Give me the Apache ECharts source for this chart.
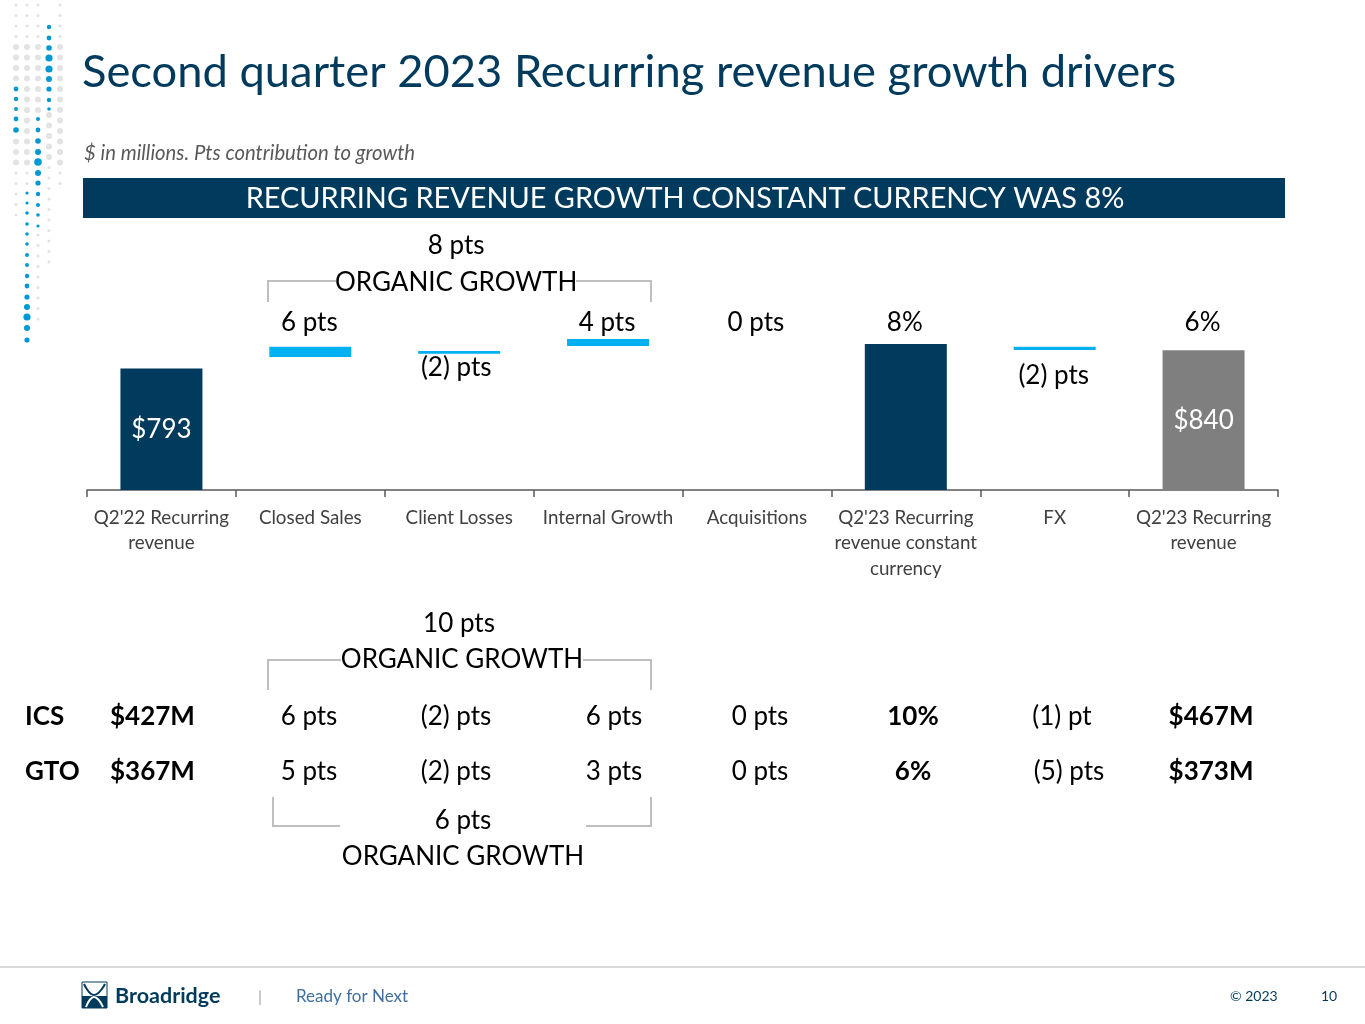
<!DOCTYPE html>
<html><head><meta charset="utf-8">
<script src="https://cdn.jsdelivr.net/npm/echarts@6/dist/echarts.min.js"></script>
<style>html,body{margin:0;padding:0;background:#fff;} #c{width:1365px;height:1024px;}</style>
</head><body><div id="c"></div>
<script>
// ---- data ----
const categories = ["Q2'22 Recurring\nrevenue", "Closed Sales", "Client Losses", "Internal Growth", "Acquisitions", "Q2'23 Recurring\nrevenue constant\ncurrency", "FX", "Q2'23 Recurring\nrevenue"];
const totalValues = [793, '-', '-', '-', '-', 856, '-', 840];
const totalLabels = ['$793', '', '', '', '', '', '', '$840'];
const markerLow  = ['-', 823, 831, 851, '-', '-', 841, '-'];
const markerHigh = ['-', 849, 838, 869, '-', '-', 849, '-'];
const topLabels   = ['', '6 pts', '', '4 pts', '0 pts', '8%', '', '6%'];
const belowLabels = ['', '', '(2) pts', '', '', '', '(2) pts', ''];
const organicTotal = '8 pts';
const icsRow = ['ICS', '$427M', '6 pts', '(2) pts', '6 pts', '0 pts', '10%', '(1) pt', '$467M'];
const gtoRow = ['GTO', '$367M', '5 pts', '(2) pts', '3 pts', '0 pts', '6%', '(5) pts', '$373M'];
const icsOrganic = '10 pts';
const gtoOrganic = '6 pts';

// ---- styles ----
const FONT = 'Lato';
const NAVY = '#003a5d';
const BLUE = '#00b0f0';
const GREY_BAR = '#7f7f7f';
const totalColors = [NAVY, null, null, null, null, NAVY, null, GREY_BAR];

const chart = echarts.init(document.getElementById('c'), null, {renderer: 'canvas'});

const markerBase = markerLow;
const markerSize = markerLow.map((v, i) => v === '-' ? '-' : markerHigh[i] - v);

chart.setOption({
  backgroundColor: '#ffffff',
  animation: false,
  textStyle: {fontFamily: FONT},
  grid: {left: 87, right: 87, top: 230, bottom: 534, containLabel: false},
  xAxis: {
    type: 'category',
    data: categories,
    axisLine: {lineStyle: {color: '#595959', width: 1.5}},
    axisTick: {show: true, length: 7, lineStyle: {color: '#595959', width: 1.5}},
    axisLabel: {color: '#404040', fontSize: 18.8, lineHeight: 25.5, margin: 15, fontFamily: FONT, interval: 0}
  },
  yAxis: {type: 'value', min: 480, max: 1150, show: false, splitLine: {show: false}},
  series: [
    {
      type: 'bar', name: 'total', barWidth: 82, barGap: '-100%',
      data: totalValues.map((v, i) => ({value: v, itemStyle: {color: totalColors[i] || NAVY}})),
      label: {
        show: true, position: 'inside', color: '#ffffff', fontSize: 26, fontFamily: FONT,
        formatter: p => totalLabels[p.dataIndex]
      }
    },
    {
      type: 'bar', name: 'base', stack: 'float', barWidth: 82, barGap: '-100%',
      itemStyle: {color: 'rgba(0,0,0,0)'}, data: markerBase, silent: true
    },
    {
      type: 'bar', name: 'change', stack: 'float', barWidth: 82, barGap: '-100%',
      itemStyle: {color: BLUE}, data: markerSize
    }
  ]
});

// ---- annotations positioned from the axis ----
const cx = categories.map((c, i) => chart.convertToPixel({xAxisIndex: 0}, i));
const g = [];
function txt(x, y, s, opt) {
  opt = opt || {};
  g.push({type: 'text', x: x, y: y, silent: true, z: 10, style: {
    text: s, fill: opt.color || '#000000', fontSize: opt.size || 26,
    fontFamily: opt.font || FONT, fontWeight: opt.weight || 'normal', fontStyle: opt.style || 'normal',
    textAlign: opt.align || 'center', textVerticalAlign: 'middle'
  }});
}
function pl(points, color, w) {
  g.push({type: 'polyline', silent: true, shape: {points: points}, style: {stroke: color || '#bfbfbf', lineWidth: w || 2, fill: null}});
}

// decoration dots (top-left)
const blueDots = [
  [49,27,2.2],[49,38,2.4],[49,48,2.8],[49,58,3.6],[49,69,3.6],[49,79,3],[49,89,2.6],[49,100,2.2],[49,109,1.8],
  [16,89,2.4],[16,99,2.2],[16,109,2],[16,119,2.4],[16,130,2.8],
  [38,119,2],[38,130,2.4],[38,141,2.8],[38,152,3],[38,162,3.8],[38,173,3],[38,183,2.6],[38,194,2.2],[38,205,2],[38,215,1.8],[38,226,1.6],
  [27,193,1.6],[27,203,1.6],[27,213,1.8],[27,224,1.8],[27,234,1.8],[27,244,1.8],[27,255,2],[27,265,2],[27,276,2.2],[27,286,2.4],[27,297,2.6],[27,307,3],[27,317,3.6],[27,328,3],[27,340,2.6]
];
const greyCols = [[16,5,225],[27,5,185],[38,5,110],[38,235,320],[49,115,265],[60,5,185]];
greyCols.forEach(([x, y0, y1]) => {
  for (let y = y0; y <= y1; y += 10.5) {
    const near = blueDots.some(d => d[0] === x && Math.abs(d[1] - y) < 5);
    if (!near) {
      const r = (y > 45 && y < 165) ? 3 : 1.6;
      g.push({type: 'circle', silent: true, shape: {cx: x, cy: y, r: r}, style: {fill: '#e3e3e3'}});
    }
  }
});
blueDots.forEach(([x, y, r]) => g.push({type: 'circle', silent: true, z: 5, shape: {cx: x, cy: y, r: r}, style: {fill: '#0098d4'}}));

// title, subtitle, banner
txt(82, 72, 'Second quarter 2023 Recurring revenue growth drivers', {size: 45.3, color: NAVY, align: 'left'});
txt(84, 153, '$ in millions. Pts contribution to growth', {size: 20.3, color: '#595959', align: 'left', style: 'italic'});
g.push({type: 'rect', silent: true, shape: {x: 83, y: 178, width: 1202, height: 40}, style: {fill: NAVY}});
txt(685, 199, 'RECURRING REVENUE GROWTH CONSTANT CURRENCY WAS 8%', {size: 28.9, color: '#ffffff'});

// chart annotations
const orgMid = (cx[1] + cx[3]) / 2;
txt(orgMid - 3, 246, organicTotal);
txt(orgMid - 3, 283, 'ORGANIC GROWTH');
pl([[268, 302], [268, 281], [336, 281]]);
pl([[576, 281], [651, 281], [651, 302]]);
topLabels.forEach((s, i) => { if (s) txt(cx[i] - 1, 323, s); });
txt(cx[2] - 3, 368, belowLabels[2]);
txt(cx[6] - 1, 376, belowLabels[6]);

// lower table
txt(459, 624, icsOrganic);
txt(462, 660, 'ORGANIC GROWTH');
pl([[268, 690], [268, 660], [341, 660]]);
pl([[583, 660], [651, 660], [651, 690]]);
const colX = [25, 110, 309, 456, 614, 760, 913, 1062, 1211];
const boldCol = [true, true, false, false, false, false, true, false, true];
[[icsRow, 717], [gtoRow, 772]].forEach(([row, y]) => {
  row.forEach((s, i) => {
    if (i < 2) txt(colX[i], y, s, {align: 'left', weight: boldCol[i] ? 'bold' : 'normal'});
    else txt(colX[i] + (row === gtoRow && i === 7 ? 7 : 0), y, s, {weight: boldCol[i] ? 'bold' : 'normal'});
  });
});
pl([[273, 797], [273, 826], [340, 826]]);
pl([[586, 826], [651, 826], [651, 797]]);
txt(463, 821, gtoOrganic);
txt(463, 857, 'ORGANIC GROWTH');

// footer
pl([[0, 967], [1365, 967]], '#d9d9d9', 2);
g.push({type: 'rect', silent: true, shape: {x: 82, y: 982, width: 25, height: 26}, style: {fill: '#ffffff', stroke: NAVY, lineWidth: 1}});
g.push({type: 'rect', silent: true, shape: {x: 82, y: 996, width: 25, height: 12}, style: {fill: NAVY}});
g.push({type: 'polyline', silent: true, shape: {points: [[84, 984], [94, 995], [105, 984]], smooth: 0.5}, style: {stroke: NAVY, lineWidth: 2, fill: null}});
g.push({type: 'polyline', silent: true, shape: {points: [[86, 1007], [94, 997], [103, 1007]], smooth: 0.5}, style: {stroke: '#ffffff', lineWidth: 2, fill: null}});
txt(115, 996, 'Broadridge', {size: 21.5, color: NAVY, weight: 'bold', align: 'left'});
txt(260, 997, '|', {size: 16, color: '#a6a6a6'});
txt(296, 997, 'Ready for Next', {size: 17, color: '#3f6f9e', align: 'left'});
txt(1230, 996, '\u00a9 2023', {size: 14, color: NAVY, align: 'left'});
txt(1321, 996, '10', {size: 14, color: NAVY, align: 'left'});

chart.setOption({graphic: {elements: g}});
</script>
</body></html>
